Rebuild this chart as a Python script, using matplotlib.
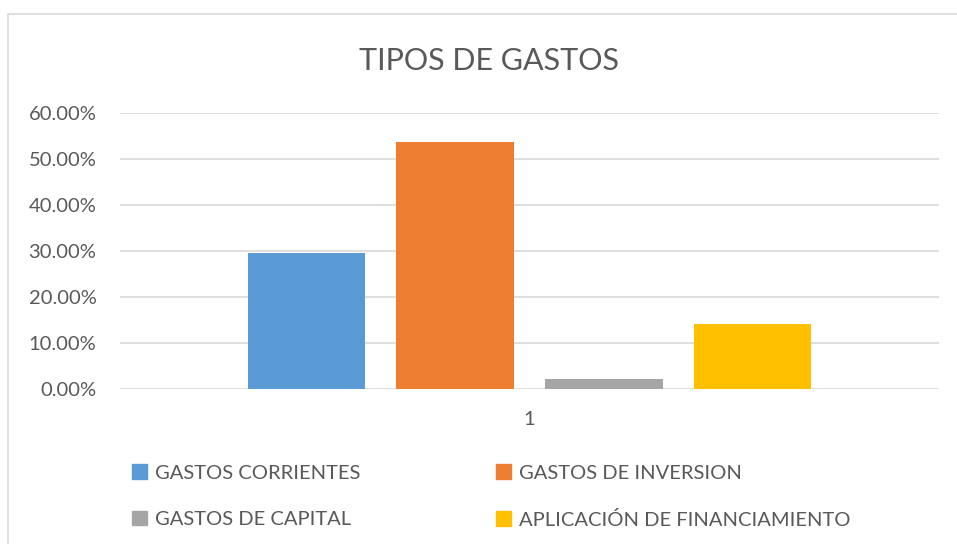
import matplotlib.pyplot as plt
from matplotlib.patches import Rectangle
from matplotlib.ticker import PercentFormatter

# data
categorias = ['GASTOS CORRIENTES', 'GASTOS DE INVERSION',
              'GASTOS DE CAPITAL', 'APLICACIÓN DE FINANCIAMIENTO']
valores = [0.296, 0.537, 0.022, 0.141]
colores = ['#5B9BD5', '#ED7D31', '#A5A5A5', '#FFC000']
yticks = [0.0, 0.1, 0.2, 0.3, 0.4, 0.5, 0.6]

plt.rcParams['font.family'] = ['Lato', 'DejaVu Sans']
gris_texto = '#595959'

fig = plt.figure(figsize=(9.57, 5.44), dpi=100)
W, H = 957, 544

# light frame round the chart (runs off the right and bottom edges)
fig.patches.append(Rectangle((8 / W, -0.05), 1.2, 1 - 14 / H + 0.05,
                             transform=fig.transFigure, fill=False,
                             edgecolor='#d9d9d9', linewidth=1.2))

ax = fig.add_axes([120 / W, (H - 389) / H, (939 - 120) / W, (389 - 113) / H])

x = list(range(len(valores)))
ax.bar(x, valores, width=0.79, color=colores, zorder=3)

ax.set_xlim(-1.255, 4.255)
ax.set_ylim(0, 0.6)
ax.set_yticks(yticks)
ax.yaxis.set_major_formatter(PercentFormatter(1.0, decimals=2))
ax.set_xticks([1.5])
ax.set_xticklabels(['1'])

ax.grid(axis='y', color='#d9d9d9', linewidth=1.2, zorder=0)
for s in ax.spines.values():
    s.set_visible(False)
ax.tick_params(length=0, labelsize=14.5, labelcolor=gris_texto)
ax.tick_params(axis='y', pad=17)
ax.tick_params(axis='x', pad=16)

fig.text(489 / W, 1 - 61 / H, 'TIPOS DE GASTOS', ha='center', va='center',
         fontsize=22, color=gris_texto)

# legend, two columns filled row by row like the reference
orden = [0, 2, 1, 3]
handles = [Rectangle((0, 0), 1, 1, color=colores[i]) for i in orden]
etiquetas = [categorias[i] for i in orden]
fig.legend(handles, etiquetas, ncol=2, loc='upper left',
           bbox_to_anchor=(114 / W, 1 - 446 / H), frameon=False,
           fontsize=14.5, labelcolor=gris_texto,
           handlelength=0.75, handleheight=0.75, handletextpad=0.4,
           columnspacing=6.7, labelspacing=1.45)

fig.savefig('out.png', dpi=100)
